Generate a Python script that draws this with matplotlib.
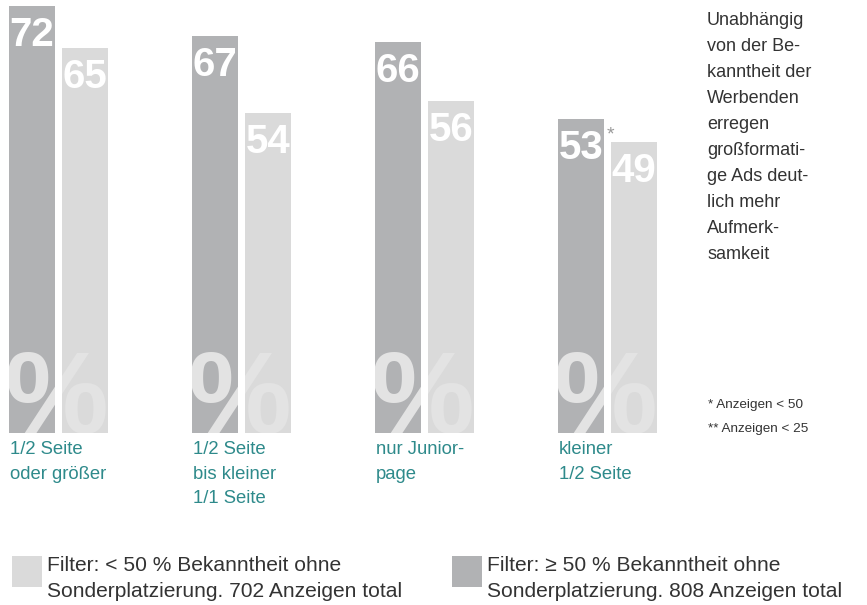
import numpy as np
import matplotlib
matplotlib.use('Agg')
import matplotlib.pyplot as plt
from matplotlib.patches import Rectangle
from matplotlib.legend_handler import HandlerPatch

plt.rcParams['font.family'] = ['Liberation Sans', 'DejaVu Sans']

# data
categories = ['1/2 Seite\noder größer', '1/2 Seite\nbis kleiner\n1/1 Seite',
              'nur Junior-\npage', 'kleiner\n1/2 Seite']
high_known = [72, 67, 66, 53]   # >= 50 % Bekanntheit
low_known = [65, 54, 56, 49]    # < 50 % Bekanntheit
high_notes = ['', '', '', '*']
low_notes = ['', '', '', '']
legend_labels = ['Filter: < 50 % Bekanntheit ohne\nSonderplatzierung. 702 Anzeigen total',
                 'Filter: ≥ 50 % Bekanntheit ohne\nSonderplatzierung. 808 Anzeigen total']
side_text = ('Unabhängig\nvon der Be-\nkanntheit der\nWerbenden\nerregen\n'
             'großformati-\nge Ads deut-\nlich mehr\nAufmerk-\nsamkeit')
footnotes = '* Anzeigen < 50\n** Anzeigen < 25'

DARK = '#b1b2b4'
LIGHT = '#dadada'
PCT = '#e3e3e3'
TEAL = '#2e8a8b'
TEXT = '#333333'

fig = plt.figure(figsize=(8.67, 6.05), dpi=100)
ax = fig.add_axes([0, 1 - 433 / 605, 700 / 867, 427 / 605])

x = np.arange(len(categories))
w = 0.2514
off = 0.1448
dark = ax.bar(x - off, high_known, w, color=DARK)
light = ax.bar(x + off, low_known, w, color=LIGHT)
ax.set_xlim(-0.317, 3.508)
ax.set_ylim(0, 72)
ax.axis('off')

# value labels inside the bars
for bars, notes in ((dark, high_notes), (light, low_notes)):
    for bar, note in zip(bars, notes):
        left, top = bar.get_x(), bar.get_height()
        ax.annotate(f'{top:g}', (left, top), xytext=(1, -40), textcoords='offset pixels',
                    ha='left', va='baseline', fontsize=29, fontweight='bold', color='white')
        if note:
            ax.annotate(note, (left + bar.get_width(), top), xytext=(3, -8),
                        textcoords='offset pixels', ha='left', va='top',
                        fontsize=14, color='#9a9a9a')

# big percent sign, clipped to the bars of each group
for d, l in zip(dark, light):
    for bar in (d, l):
        t = ax.annotate('%', (d.get_x(), 0), xytext=(-4, 0), textcoords='offset pixels',
                        ha='left', va='baseline', fontsize=84, fontweight='bold',
                        color=PCT, annotation_clip=False)
        t.set_clip_path(bar)

# category labels
for d, cat in zip(dark, categories):
    ax.annotate(cat, (d.get_x(), 0), xytext=(1, -8), textcoords='offset pixels',
                ha='left', va='top', fontsize=13.3, color=TEAL, linespacing=1.59,
                annotation_clip=False)

fig.text(707 / 867, 1 - 12 / 605, side_text, ha='left', va='top',
         fontsize=13, color=TEXT, linespacing=1.695)
fig.text(708 / 867, 1 - 399 / 605, footnotes, ha='left', va='top',
         fontsize=9.7, color=TEXT, linespacing=2.28)


def square_up(legend, orig_handle, xdescent, ydescent, width, height, fontsize):
    # legend square sits higher than the text baseline in the reference
    return Rectangle((-xdescent, -ydescent + 3.5), width, height + 4)


fs_px = 21
leg = fig.legend([light.patches[0], dark.patches[0]], legend_labels, loc='upper left',
                 bbox_to_anchor=(12 / 867, 1 - 556 / 605), ncol=2, frameon=False,
                 fontsize=fs_px * 0.72, borderpad=0, borderaxespad=0,
                 handlelength=30 / fs_px, handleheight=30 / fs_px,
                 handletextpad=5 / fs_px, columnspacing=50 / fs_px, labelcolor=TEXT,
                 handler_map={Rectangle: HandlerPatch(patch_func=square_up)})
for t in leg.get_texts():
    t.set_linespacing(1.48)

fig.savefig('out.png', dpi=100)
